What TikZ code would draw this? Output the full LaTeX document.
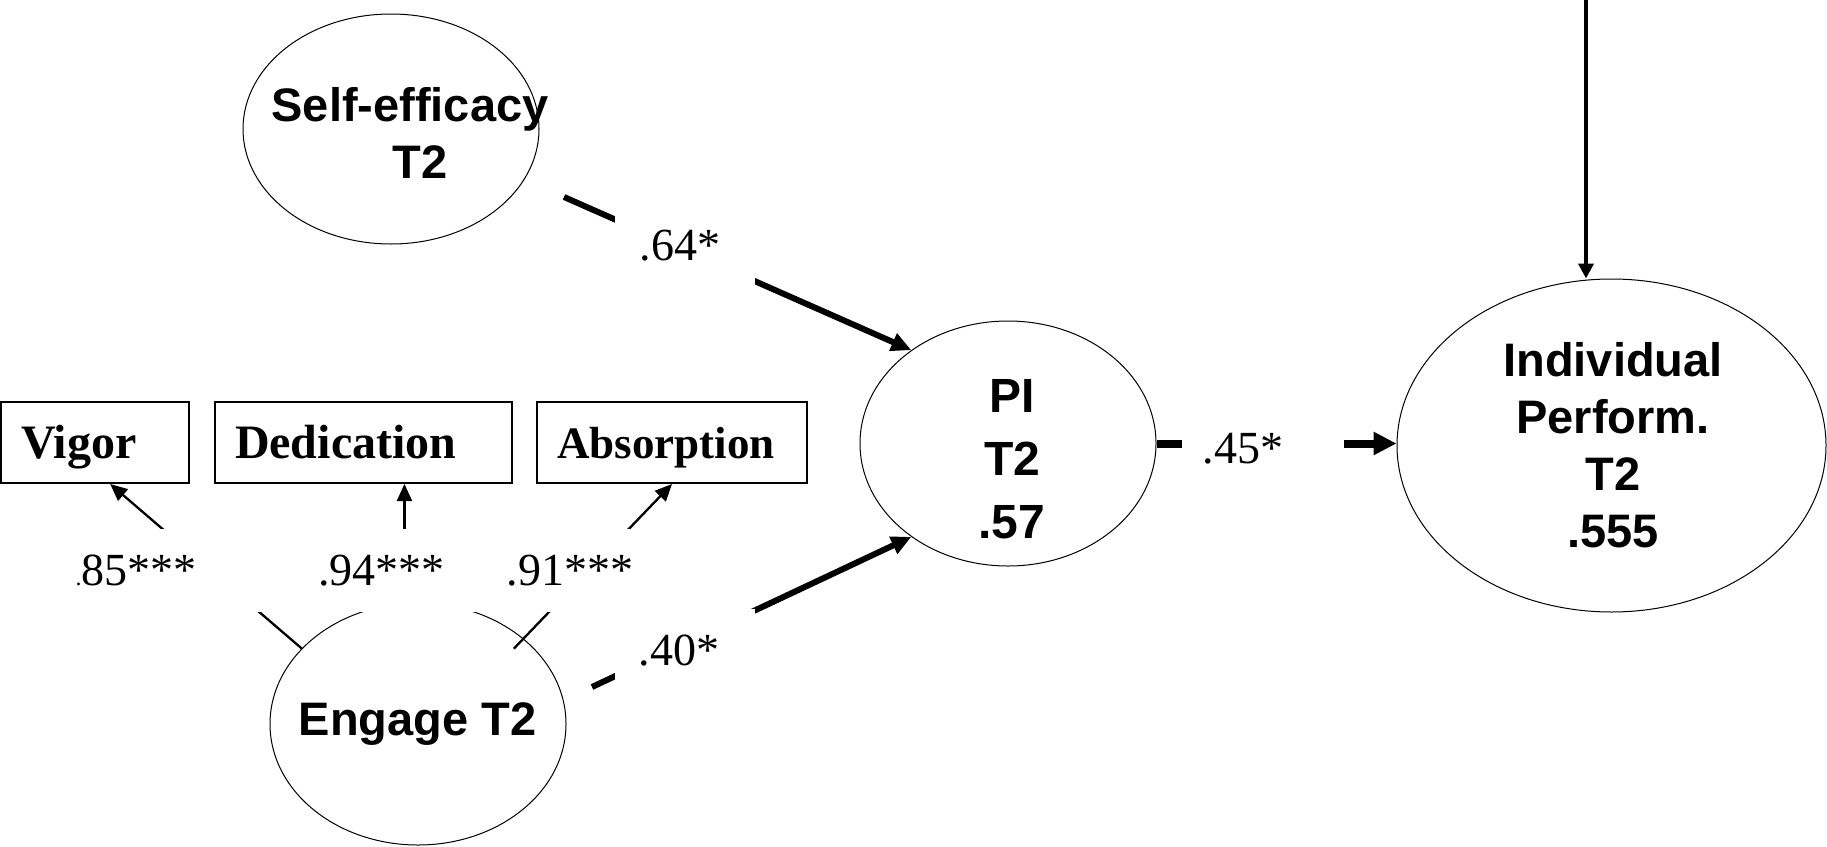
\documentclass[tikz,border=0pt]{standalone}
\usepackage{fontspec}
\setmainfont{Liberation Serif}
\newfontfamily\arialfam{Liberation Sans}
\usetikzlibrary{arrows.meta,calc,shapes.geometric}

\begin{document}
\begin{tikzpicture}[x=1pt,y=-1pt,
  latent/.style={draw, ellipse, line width=1pt, inner sep=0pt},
  indicator/.style={draw, rectangle, line width=2pt, inner xsep=20pt, inner ysep=0pt,
    minimum height=81pt, align=left, text height=31pt, text depth=0pt,
    font=\bfseries\fontsize{#1}{50}\selectfont},
  lattext/.style={align=center, inner sep=0pt, anchor=base,
    font=\arialfam\bfseries\fontsize{47}{57}\selectfont},
  coef/.style={inner sep=0pt, anchor=base, font=\fontsize{46}{50}\selectfont},
  mask/.style={fill=white, inner sep=0pt},
  regr/.style={line width=6pt, -{Triangle[length=20pt,width=18pt]}},
  load/.style={line width=2.3pt, -{Triangle[length=17pt,width=15pt]}},
]
\fill[white] (0,0) rectangle (1827,846);
\useasboundingbox (0,0) rectangle (1827,846);

% latent variables
\node[latent, minimum width=296pt, minimum height=230pt] (se) at (391,129) {};
\node[latent, minimum width=296pt, minimum height=245pt] (pi) at (1008,443.5) {};
\node[latent, minimum width=429pt, minimum height=333pt] (ip) at (1611.5,445.5) {};
\node[latent, minimum width=296pt, minimum height=242pt] (en) at (418,724) {};

% indicators of engagement
\node[indicator=48, text width=148pt] (vig) at (95,442.5) {Vigor};
\node[indicator=48, text width=257pt] (ded) at (363.5,442.5) {Dedication};
\node[indicator=45, text width=230pt] (abs) at (672,442.5) {Absorption};

% structural paths
\coordinate (seout) at (564,197);
\coordinate (enout) at (592,687);
\draw[regr] (seout) -- (pi.136.4);
\draw[regr] (enout) -- (pi.224.8);
\draw[line width=8pt, -{Triangle[length=23pt,width=22pt]}] (pi.east) -- (pi.east -| ip.west);
\coordinate (topin) at (1586,0);
\draw[line width=4pt, -{Triangle[length=15pt,width=15pt]}] (topin) -- (topin |- ip.north);

% loadings
\coordinate (vigfoot) at ($(vig.south west)!0.58!(vig.south east)$);
\coordinate (dedfoot) at ($(ded.south west)!0.637!(ded.south east)$);
\draw[load] (en.147.5) -- (vigfoot);
\draw[load] (dedfoot |- en.north) -- (dedfoot);
\draw[load, shorten <=-14pt] (en.39.6) -- (abs.south);

% label backgrounds
\node[mask, minimum width=140pt, minimum height=72pt] (m64) at (685,250) {};
\node[mask, minimum width=140pt, minimum height=72pt] (m40) at (685,645) {};
\node[mask, minimum width=162pt, minimum height=60pt] (m45) at (1263,446) {};
\node[mask, minimum width=250pt, minimum height=83pt] (m85) at (136,570.5) {};
\node[mask, minimum width=201pt, minimum height=83pt] (m94) at (381.5,570.5) {};
\node[mask, minimum width=140pt, minimum height=83pt] (m91) at (570,570.5) {};

% coefficients
\node[coef] (c64) at (680,260) {.64*};
\node[coef] (c40) at (679,665) {.40*};
\node[coef] (c45) at (1243,463) {.45*};
\node[coef] (c85) at (136,585) {{\fontsize{24}{24}\selectfont.}85***};
\node[coef] (c94) at (381.5,585) {.94***};
\node[coef] (c91) at (570,585) {.91***};

% latent labels (base anchor = baseline of the last line)
\node[lattext] (seT) at (410,178) {Self-efficacy\\\hspace*{20pt}T2};
\node[lattext, font=\arialfam\bfseries\fontsize{48}{63}\selectfont] (piT) at (1012,538) {PI\\T2\\.57};
\node[lattext] (ipT) at (1613,547) {Individual\\Perform.\\T2\\.555};
\node[lattext] (enT) at (417.5,735) {Engage T2};
\end{tikzpicture}
\end{document}
